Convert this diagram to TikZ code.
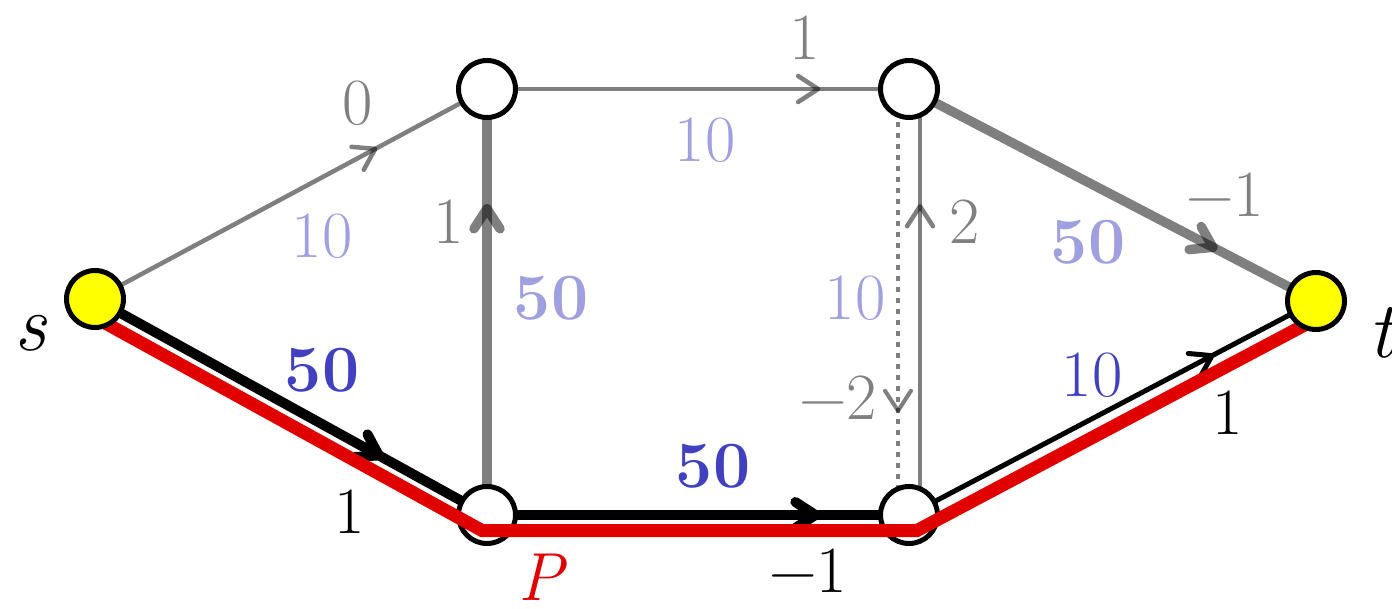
\documentclass[tikz,border=0pt]{standalone}
\usetikzlibrary{arrows.meta,decorations.markings,calc}
\definecolor{dblue}{RGB}{64,64,192}
\definecolor{lblue}{RGB}{160,160,224}
\definecolor{mgray}{RGB}{128,128,128}
\definecolor{myred}{RGB}{224,0,0}
\definecolor{myyellow}{RGB}{255,255,0}
\begin{document}
\begin{tikzpicture}[x=0.5pt,y=-0.5pt,
  font=\fontsize{33}{40}\selectfont,
  vert/.style={circle, draw=black, line width=2.5pt, fill=white, minimum size=28.5pt, inner sep=0pt},
  term/.style={vert, fill=myyellow},
  midarrow/.style={postaction={decorate}, decoration={markings, mark=at position #1 with {\arrow{Straight Barb[length=10pt,width=13pt,round]}}}},
  gthin/.style={draw=black, draw opacity=0.5, line width=2.25pt},
  gthick/.style={draw=black, draw opacity=0.5, line width=4.75pt},
  gdot/.style={draw=black, draw opacity=0.5, line width=2pt, dash pattern=on 2.5pt off 3pt},
  bthick/.style={draw=black, line width=5pt},
  bthin/.style={draw=black, line width=2.5pt},
  redpath/.style={draw=myred, line width=6.5pt},
  glab/.style={text=mgray, inner sep=0pt},
  lblab/.style={text=lblue, inner sep=0pt},
  dblab/.style={text=dblue, inner sep=0pt},
  klab/.style={text=black, inner sep=0pt}
]
\useasboundingbox (0,0) rectangle (1392,609);
% node coordinates
\coordinate (S) at (95,299);
\coordinate (A) at (487,89);
\coordinate (B) at (909,89);
\coordinate (C) at (487,515);
\coordinate (D) at (909,515);
\coordinate (T) at (1316,301);

% gray edges
\draw[gthin, midarrow=0.72] (S) -- (A);
\draw[gthin, midarrow=0.79] (A) -- (B);
\draw[gthick, midarrow=0.757] (B) -- (T);
\draw[gthick, midarrow=0.73] (C) -- (A);
\draw[gthin, midarrow=0.73] ($(D)+(11,0)$) -- ($(B)+(11,0)$);
\draw[gdot, midarrow=0.76] ($(B)+(-11,0)$) -- ($(D)+(-11,0)$);

% black edges
\draw[bthick, midarrow=0.735] (S) -- (C);
\draw[bthick, midarrow=0.79] (C) -- (D);
\draw[bthin, midarrow=0.75] (D) -- (T);

% inner vertices
\node[vert] (a) at (A) {};
\node[vert] (b) at (B) {};
\node[vert] (c) at (C) {};
\node[vert] (d) at (D) {};

% red path P
\draw[redpath] ($(S)+(-8,14)$) -- ($(C)+(-5,15.5)$) -- ($(D)+(8,15.5)$) -- ($(T)+(7.5,14)$);

% terminals
\node[term] (s) at (S) {};
\node[term] (t) at (T) {};

% labels
\node[klab] (ls) at (30,333) {\fontsize{40}{44}\selectfont\itshape s};
\node[klab] (lt) at (1381,333) {\fontsize{40}{44}\selectfont\itshape t};
\node[text=myred, inner sep=0pt] (lP) at (541,577) {\fontsize{34}{40}\selectfont\itshape P};

\node[glab] (l1) at (358,103) {0};
\node[lblab] (l2) at (322,236) {10};
\node[glab] (l3) at (805,38) {1};
\node[lblab] (l4) at (705,140) {10};
\node[glab] (l5) at (1225,195) {−1};
\node[lblab] (l6) at (1088,242) {\bfseries 50};
\node[glab] (l7) at (449,222) {1};
\node[lblab] (l8) at (551,298) {\bfseries 50};
\node[glab] (l9) at (965,222) {2};
\node[lblab] (l10) at (855,298) {10};
\node[glab] (l11) at (838,398) {−2};
\node[dblab] (l12) at (322,370) {\bfseries 50};
\node[klab] (l13) at (350,512) {1};
\node[dblab] (l14) at (713,466) {\bfseries 50};
\node[klab] (l15) at (808,571) {−1};
\node[dblab] (l16) at (1092,375) {10};
\node[klab] (l17) at (1228,413) {1};
\end{tikzpicture}
\end{document}
